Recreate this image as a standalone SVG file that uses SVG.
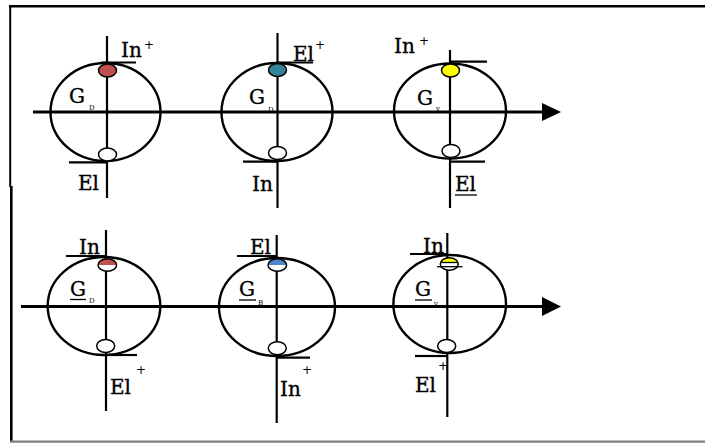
<svg xmlns="http://www.w3.org/2000/svg" width="705" height="443" viewBox="0 0 705 443">
<style>
.ln{stroke:#000;stroke-width:2.2;fill:none}
.ax{stroke:#000;stroke-width:3;fill:none}
.el{stroke:#000;stroke-width:2.4;fill:none}
.dot{stroke:#000;stroke-width:1.5}
.t{font-family:"DejaVu Serif","Liberation Serif",serif;font-size:20px;fill:#000;stroke:#000;stroke-width:0.35}
.sup{font-family:"DejaVu Sans","Liberation Sans",sans-serif;font-size:12px;fill:#000}
.sub{font-family:"DejaVu Serif","Liberation Serif",serif;font-size:7px;fill:#000}
.ul{stroke:#000;stroke-width:1.3}
</style>
<defs>
<clipPath id="topHalf4"><rect x="96" y="256" width="24" height="9"/></clipPath>
<clipPath id="topHalf5"><rect x="266" y="256" width="24" height="9"/></clipPath>
<clipPath id="topHalf6"><rect x="438" y="255" width="24" height="8"/></clipPath>
</defs>
<rect width="705" height="443" fill="#fff"/>
<g id="frame">
<line x1="9" y1="6.2" x2="705" y2="6.2" stroke="#000" stroke-width="2.4"/>
<line x1="10.2" y1="5" x2="10.2" y2="187" stroke="#000" stroke-width="2"/>
<line x1="11.3" y1="186" x2="11.3" y2="442" stroke="#000" stroke-width="2.6"/>
<line x1="10" y1="441.7" x2="705" y2="441.7" stroke="#808080" stroke-width="2.2"/>
</g>
<g id="connectors">
<line class="ax" x1="33" y1="112" x2="544" y2="112"/>
<polygon points="542,103 561,112 542,121" fill="#000"/>
<line class="ax" x1="21" y1="306.5" x2="544" y2="306.5"/>
<polygon points="542,297 561,306.5 542,316" fill="#000"/>
</g>
<g id="node-top1">
<ellipse class="el" cx="105.5" cy="112" rx="55" ry="49"/>
<line class="ln" x1="107" y1="36" x2="107" y2="198"/>
<line class="ln" x1="101" y1="62.5" x2="136" y2="62.5"/>
<line class="ln" x1="69" y1="162.3" x2="107" y2="162.3"/>
<ellipse class="dot" cx="107.5" cy="70.5" rx="9" ry="6.5" fill="#c0504d"/>
<ellipse class="dot" cx="107.5" cy="154.5" rx="9" ry="6.5" fill="#fff"/>
<text class="t" x="121" y="57">In</text><text class="sup" x="144" y="49">+</text>
<text class="t" x="69" y="103">G</text><text class="sub" x="89" y="110">D</text>
<text class="t" x="78" y="190">El</text>
</g>
<g id="node-top2">
<ellipse class="el" cx="277" cy="112" rx="55.5" ry="49"/>
<line class="ln" x1="277.5" y1="33" x2="277.5" y2="208"/>
<line class="ln" x1="277" y1="62.5" x2="313" y2="62.5"/>
<line class="ln" x1="243" y1="161.7" x2="277" y2="161.7"/>
<ellipse class="dot" cx="277.5" cy="70" rx="9" ry="6.5" fill="#31849b"/>
<ellipse class="dot" cx="277.5" cy="153" rx="9" ry="6.5" fill="#fff"/>
<text class="t" x="293" y="61">El</text><text class="sup" x="315" y="49">+</text>
<text class="t" x="249" y="104">G</text><text class="sub" x="268" y="112">D</text>
<text class="t" x="252" y="191">In</text>
</g>
<g id="node-top3">
<ellipse class="el" cx="450" cy="111" rx="56" ry="47.5"/>
<line class="ln" x1="450" y1="50" x2="450" y2="208"/>
<line class="ln" x1="450" y1="61.7" x2="487" y2="61.7"/>
<line class="ln" x1="450" y1="161.7" x2="485" y2="161.7"/>
<ellipse class="dot" cx="450.5" cy="70.5" rx="9" ry="6.5" fill="#ffff00"/>
<ellipse class="dot" cx="451" cy="151" rx="9" ry="6.5" fill="#fff"/>
<text class="t" x="394" y="53">In</text><text class="sup" x="419" y="45">+</text>
<text class="t" x="417" y="105">G</text><text class="sub" x="436" y="111">v</text>
<text class="t" x="455" y="191">El</text><line class="ul" x1="455" y1="195" x2="477" y2="195"/>
</g>
<g id="node-bot1">
<ellipse class="el" cx="104" cy="306" rx="56.3" ry="49"/>
<line class="ln" x1="106" y1="230" x2="106" y2="411"/>
<line class="ln" x1="66" y1="256" x2="106" y2="256"/>
<line class="ln" x1="106" y1="355" x2="137" y2="355"/>
<ellipse cx="107.3" cy="265" rx="9.3" ry="6.3" fill="#fff"/>
<ellipse cx="107.3" cy="265" rx="9.3" ry="6.3" fill="#c0504d" clip-path="url(#topHalf4)"/>
<ellipse cx="107.3" cy="265" rx="9.3" ry="6.3" fill="none" stroke="#000" stroke-width="1.5"/>
<ellipse class="dot" cx="105.7" cy="346" rx="9" ry="6.5" fill="#fff"/>
<text class="t" x="79" y="254">In</text>
<text class="t" x="70" y="296">G</text><line class="ul" x1="70" y1="299.5" x2="86" y2="299.5"/><text class="sub" x="89" y="303">D</text>
<text class="t" x="110" y="394">El</text><text class="sup" x="136" y="374">+</text>
</g>
<g id="node-bot2">
<ellipse class="el" cx="277" cy="307" rx="58" ry="49"/>
<line class="ln" x1="276.7" y1="235" x2="276.7" y2="423"/>
<line class="ln" x1="237" y1="256" x2="277" y2="256"/>
<line class="ln" x1="277" y1="357.7" x2="310" y2="357.7"/>
<ellipse cx="277.3" cy="265" rx="9.3" ry="6.3" fill="#fff"/>
<ellipse cx="277.3" cy="265" rx="9.3" ry="6.3" fill="#4a86c8" clip-path="url(#topHalf5)"/>
<ellipse cx="277.3" cy="265" rx="9.3" ry="6.3" fill="none" stroke="#000" stroke-width="1.5"/>
<ellipse class="dot" cx="277.3" cy="348.3" rx="9" ry="6.5" fill="#fff"/>
<text class="t" x="250" y="254">El</text>
<text class="t" x="239" y="296">G</text><line class="ul" x1="239" y1="300" x2="256" y2="300"/><text class="sub" x="258" y="305">B</text>
<text class="t" x="280" y="396">In</text><text class="sup" x="302" y="374">+</text>
</g>
<g id="node-bot3">
<ellipse class="el" cx="449.7" cy="304" rx="56.3" ry="49"/>
<line class="ln" x1="447.3" y1="233" x2="447.3" y2="417"/>
<line class="ln" x1="410" y1="254" x2="447" y2="254"/>
<line class="ln" x1="415" y1="356" x2="447" y2="356"/>
<ellipse cx="449.3" cy="264" rx="9" ry="6.3" fill="#fff"/>
<ellipse cx="449.3" cy="264" rx="9" ry="6.3" fill="#ffff00" clip-path="url(#topHalf6)"/>
<ellipse cx="449.3" cy="264" rx="9" ry="6.3" fill="none" stroke="#000" stroke-width="1.5"/>
<line stroke="#000" stroke-width="1.3" x1="441" y1="262.5" x2="458" y2="262.5"/>
<line stroke="#000" stroke-width="1.3" x1="437" y1="266.7" x2="462.5" y2="266.7"/>
<ellipse class="dot" cx="446.7" cy="346" rx="9" ry="6.5" fill="#fff"/>
<text class="t" x="423" y="253">In</text>
<text class="t" x="415" y="296">G</text><line class="ul" x1="415" y1="300" x2="432" y2="300"/><text class="sub" x="434" y="306">v</text>
<text class="t" x="415" y="392">El</text><text class="sup" x="438" y="370">+</text>
</g>
</svg>
